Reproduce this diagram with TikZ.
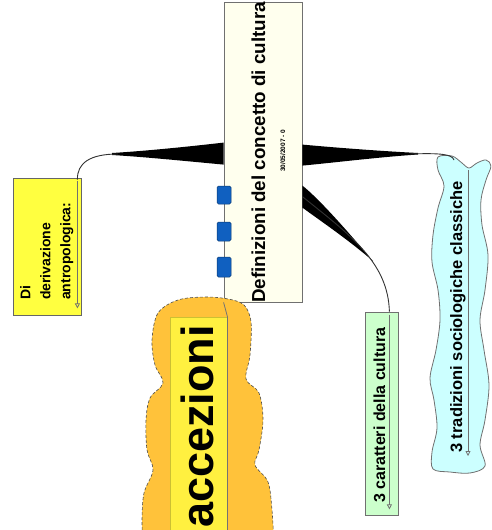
\documentclass[tikz,border=0pt]{standalone}
\usepackage{fontspec}
\setmainfont{Liberation Sans}
\usetikzlibrary{arrows.meta,calc}
\definecolor{cream}{HTML}{FFFFEE}
\definecolor{yel}{HTML}{FFFF40}
\definecolor{grn}{HTML}{CCFFCC}
\definecolor{cyanl}{HTML}{CCFFFF}
\definecolor{orng}{HTML}{FFC23A}
\definecolor{yin}{HTML}{FFF040}
\definecolor{sq}{HTML}{1060C0}
\definecolor{edge}{HTML}{707070}
\tikzset{
  shapebox/.style={draw=edge, line width=0.8pt, inner sep=0pt},
  taper/.style={fill=black, draw=none},
  thinline/.style={draw=black!80, line width=0.9pt},
  innerline/.style={draw=edge, line width=0.8pt, -{Triangle[open,length=5pt,width=5pt]}},
  vtext/.style={rotate=90, anchor=base west, inner sep=0pt, font=\bfseries},
  sqbox/.style={fill=sq, draw=sq!60!black, line width=0.5pt, rounded corners=1.5pt, minimum width=14pt, inner sep=0pt}
}
\begin{document}
\begin{tikzpicture}[x=1pt,y=-1pt]
\useasboundingbox (0,0) rectangle (491,530);
\clip (0,0) rectangle (491,530);

% ---- shapes ----
\node[shapebox, fill=cream, minimum width=78pt, minimum height=300pt] (main) at (263,152) {};
\node[shapebox, fill=yel, draw=black!60, minimum width=68pt, minimum height=137pt] (yelbox) at (47,246.5) {};
\node[shapebox, fill=grn, minimum width=33pt, minimum height=203pt] (grnbox) at (381.5,413.5) {};

% blue wavy shape
\draw[fill=cyanl, draw=edge, line width=0.8pt] plot[smooth cycle, tension=0.55] coordinates {
 (438,157) (452,156) (462,163) (469,168) (477,163) (486,160) (491,166) (486,180) (481,200)
 (482,225) (488,255) (485,290) (480,320) (484,350) (489,385) (485,420) (480,445) (485,466)
 (470,473) (450,472) (433,469) (432,452) (437,428) (434,400) (430,378) (436,350) (440,320)
 (438,290) (432,262) (433,235) (438,208) (444,186) (438,170)};
\coordinate (wtop) at (454,160);

% orange cloud
\draw[fill=orng, draw=black!70, densely dashed, line width=0.6pt] plot[smooth, tension=0.55] coordinates {
 (143,545) (142,520) (144,493) (153,470) (147,450) (146,420) (150,398) (163,383) (155,365)
 (152,340) (158,313) (178,300) (205,297) (228,299) (244,305) (251,322) (250,355) (246,379)
 (259,393) (263,420) (259,450) (255,465) (268,482) (272,510) (274,545)} -- cycle;
\node[shapebox, fill=yin, draw=yin!80!black, minimum width=57pt, minimum height=223pt] (acc) at (198.5,428.5) {};
\draw[draw=black!55, line width=0.8pt] (main.south west) -- (acc.north east) -- (acc.south east);

% blue squares on main box left edge
\node[sqbox, minimum height=18pt] (s1) at (224,195) {};
\node[sqbox, minimum height=19pt] (s2) at (224,231.5) {};
\node[sqbox, minimum height=20pt] (s3) at (224,267) {};

% ---- connectors (tapered) ----
\coordinate (Lend) at ($(yelbox.north east)+(-4,2)$);
\fill[taper] ($(main.north west)+(0,141)$) .. controls (185,147) and (145,151) .. (112,153)
  -- (112,155) .. controls (145,157) and (185,161) .. ($(main.north west)+(0,163)$) -- cycle;
\draw[thinline] (118,154) .. controls (90,154) and (77,163) .. (Lend);

\fill[taper] ($(main.north east)+(0,143)$) .. controls (340,148) and (380,151) .. (418,153)
  -- (418,154.5) .. controls (380,157) and (340,162) .. ($(main.north east)+(0,164)$) -- cycle;
\draw[thinline] (410,154) .. controls (440,153) and (452,154) .. (wtop);

\coordinate (Gend) at ($(grnbox.north east)+(-9,0)$);
\fill[taper] ($(main.north east)+(0,184)$) .. controls (318,198) and (345,228) .. (371,259)
  -- (373,261) .. controls (346,238) and (322,222) .. ($(main.north east)+(0,206)$) -- cycle;
\draw[thinline] ($(main.north east)+(0,195)$) .. controls (350,235) and (388,262) .. (Gend);

% inner lines with arrows
\draw[innerline] ($(yelbox.north east)+(-4,3)$) -- ($(yelbox.south east)+(-4,-7)$);
\draw[innerline] ($(grnbox.north east)+(-9,3)$) -- ($(grnbox.south east)+(-9,-6)$);
\draw[innerline] (468,170) -- (468,456);

% ---- texts ----
\node[vtext, font=\bfseries\fontsize{18.8}{18.8}\selectfont] (title) at (265,303) {Definizioni del concetto di cultura};
\node[vtext, font=\bfseries\fontsize{6.5}{7}\selectfont] (date) at (285,172) {30/05/2007 - 0};

\node[rotate=90, anchor=north west, inner sep=0pt, align=left,
      font=\bfseries\fontsize{14}{20}\selectfont] (yeltext) at (20,300) {Di\\derivazione\\antropologica:};
\node[vtext, font=\bfseries\fontsize{16}{16}\selectfont] (grntext) at (385,503) {3 caratteri della cultura};
\node[vtext, font=\bfseries\fontsize{16.5}{16.5}\selectfont] (bluetext) at (462,453) {3 tradizioni sociologiche classiche};
\node[vtext, font=\bfseries\fontsize{45}{45}\selectfont] (acctext) at (213,528) {accezioni};
\end{tikzpicture}
\end{document}
